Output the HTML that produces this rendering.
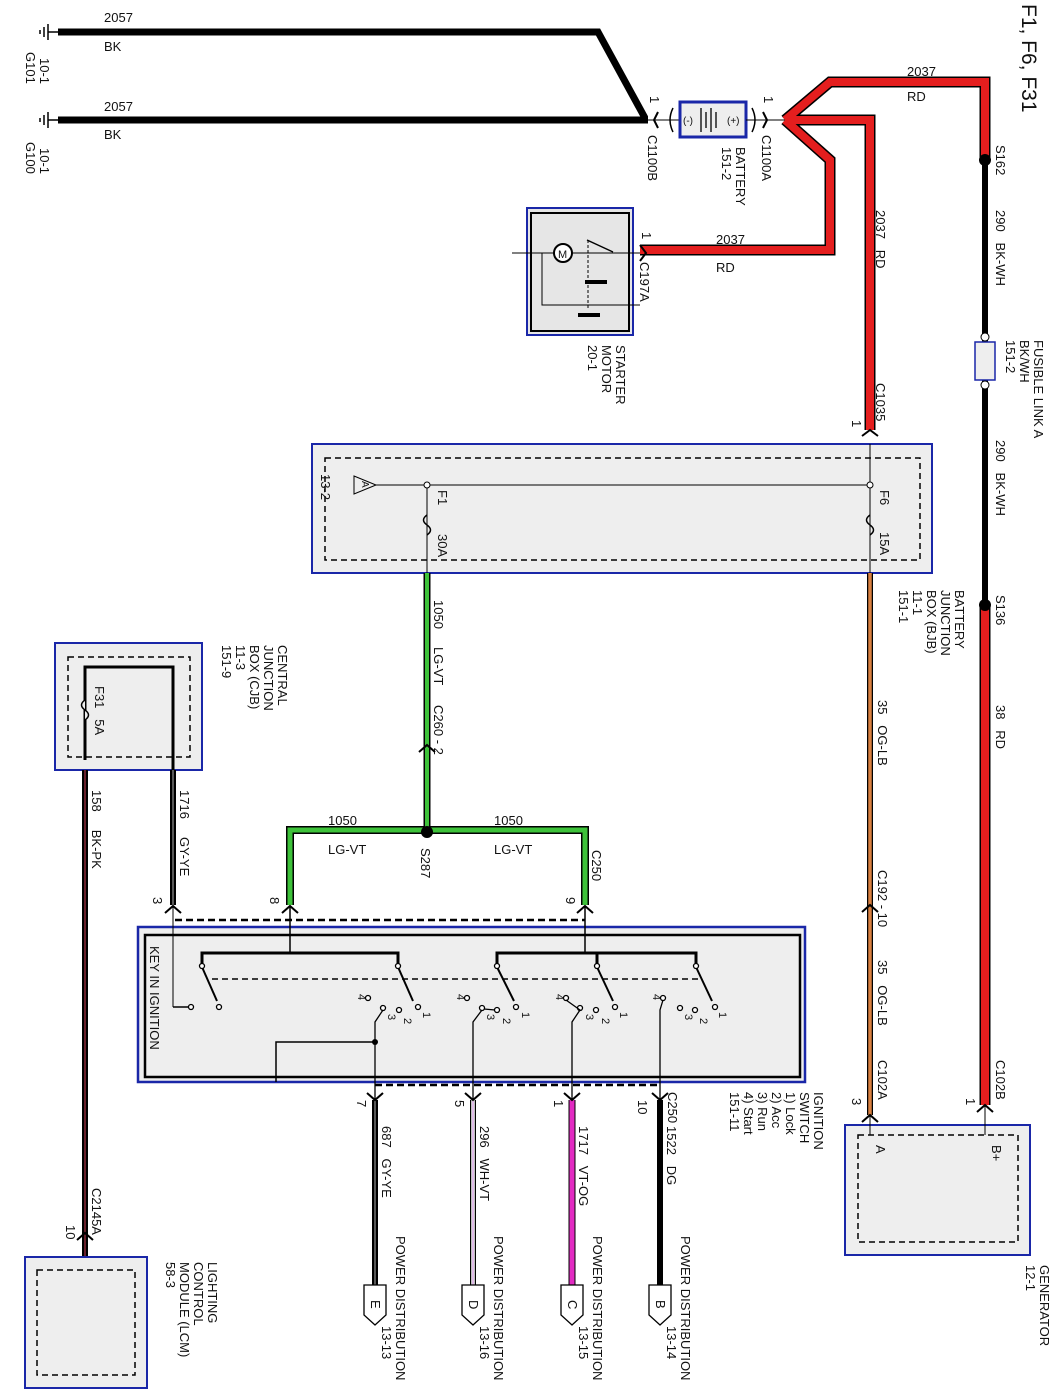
<!DOCTYPE html>
<html><head><meta charset="utf-8"><style>
html,body{margin:0;padding:0;background:#fff;}
svg{display:block;font-family:"Liberation Sans",sans-serif;}
text{font-size:13px;fill:#111;}
</style></head><body>
<svg width="1052" height="1396" viewBox="0 0 1052 1396" xmlns="http://www.w3.org/2000/svg">
<!-- top black ground wires -->
<polyline points="58,32 598,32 645,118" fill="none" stroke="#000" stroke-width="7"/>
<line x1="58" y1="120" x2="648" y2="120" stroke="#000" stroke-width="7"/>
<g stroke="#000" stroke-width="1.5">
<line x1="48" y1="24" x2="48" y2="40"/><line x1="44" y1="27" x2="44" y2="37"/><line x1="40" y1="30" x2="40" y2="34"/><line x1="48" y1="32" x2="58" y2="32"/>
<line x1="48" y1="112" x2="48" y2="128"/><line x1="44" y1="115" x2="44" y2="125"/><line x1="40" y1="118" x2="40" y2="122"/><line x1="48" y1="120" x2="58" y2="120"/>
</g>
<text x="104" y="22">2057</text><text x="104" y="51">BK</text>
<text x="104" y="111">2057</text><text x="104" y="139">BK</text>
<text transform="translate(26,52) rotate(90)">G101</text><text transform="translate(40,58) rotate(90)">10-1</text>
<text transform="translate(26,142) rotate(90)">G100</text><text transform="translate(40,148) rotate(90)">10-1</text>
<text transform="translate(1022,4) rotate(90)" style="font-size:21px">F1, F6, F31</text>

<!-- battery -->
<line x1="648" y1="120" x2="680" y2="120" stroke="#000" stroke-width="1"/>
<path d="M658,112 L654,120 L658,128" fill="none" stroke="#000" stroke-width="2"/>
<path d="M673,108 Q667,120 673,132" fill="none" stroke="#000" stroke-width="1.5"/>
<text transform="translate(650,96) rotate(90)">1</text>
<text transform="translate(648,135) rotate(90)">C1100B</text>
<rect x="680" y="102" width="66" height="35" fill="#eee" stroke="#1a27a8" stroke-width="3"/>
<g stroke="#000" stroke-width="1.3"><line x1="701" y1="108" x2="701" y2="132"/><line x1="706" y1="112" x2="706" y2="128"/><line x1="711" y1="108" x2="711" y2="132"/><line x1="716" y1="112" x2="716" y2="128"/></g>
<text x="683" y="124" style="font-size:10px">(-)</text><text x="727" y="124" style="font-size:10px">(+)</text>
<path d="M752,108 Q758,120 752,132" fill="none" stroke="#000" stroke-width="1.5"/>
<path d="M763,112 L767,120 L763,128" fill="none" stroke="#000" stroke-width="2"/>
<line x1="746" y1="120" x2="785" y2="120" stroke="#000" stroke-width="1"/>
<text transform="translate(764,96) rotate(90)">1</text>
<text transform="translate(762,135) rotate(90)">C1100A</text>
<text transform="translate(736,147) rotate(90)">BATTERY</text>
<text transform="translate(722,147) rotate(90)">151-2</text>

<!-- red wires -->
<g fill="none" stroke="#000" stroke-width="11" stroke-linejoin="miter">
<polyline points="785,120 830,82 985,82 985,160"/>
<polyline points="785,120 830,160 830,250 640,250"/>
<polyline points="785,120 870,120 870,430"/>
<line x1="985" y1="605" x2="985" y2="1105"/>
</g>
<g fill="none" stroke="#e41e1e" stroke-width="8" stroke-linejoin="miter">
<polyline points="785,120 830,82 985,82 985,160"/>
<polyline points="785,120 830,160 830,250 640,250"/>
<polyline points="785,120 870,120 870,430"/>
<line x1="985" y1="605" x2="985" y2="1105"/>
</g>
<text x="907" y="76">2037</text><text x="907" y="101">RD</text>
<text x="716" y="244">2037</text><text x="716" y="272">RD</text>
<text transform="translate(876,210) rotate(90)">2037 &#160; RD</text>
<!-- black fusible link line -->
<line x1="985" y1="160" x2="985" y2="605" stroke="#000" stroke-width="6"/>
<circle cx="985" cy="160" r="6" fill="#000"/>
<circle cx="985" cy="605" r="6" fill="#000"/>
<rect x="975" y="342" width="20" height="38" fill="#eee" stroke="#1a27a8" stroke-width="1.5"/>
<circle cx="985" cy="337" r="4" fill="#fff" stroke="#000"/><circle cx="985" cy="385" r="4" fill="#fff" stroke="#000"/>
<text transform="translate(996,145) rotate(90)">S162</text>
<text transform="translate(996,210) rotate(90)">290 &#160; BK-WH</text>
<text transform="translate(1034,340) rotate(90)">FUSIBLE LINK A</text>
<text transform="translate(1020,340) rotate(90)">BK/WH</text>
<text transform="translate(1006,340) rotate(90)">151-2</text>
<text transform="translate(996,440) rotate(90)">290 &#160; BK-WH</text>
<text transform="translate(996,595) rotate(90)">S136</text>
<text transform="translate(996,705) rotate(90)">38 &#160; RD</text>

<!-- starter -->
<rect x="527" y="208" width="106" height="127" fill="#e6e6e6" stroke="#1a27a8" stroke-width="2"/>
<rect x="531" y="213" width="98" height="118" fill="none" stroke="#000" stroke-width="2"/>
<line x1="512" y1="253" x2="640" y2="253" stroke="#000"/>
<circle cx="563" cy="253" r="9" fill="#fff" stroke="#000" stroke-width="2"/>
<text x="558" y="258" style="font-size:11px">M</text>
<polyline points="542,253 542,305 640,305" fill="none" stroke="#000"/>
<line x1="587" y1="240" x2="613" y2="252" stroke="#000" stroke-width="1.5"/>
<line x1="588" y1="240" x2="588" y2="310" stroke="#000" stroke-dasharray="3,2"/>
<rect x="585" y="280" width="22" height="4" fill="#000"/><rect x="578" y="313" width="22" height="4" fill="#000"/>
<text transform="translate(642,232) rotate(90)">1</text>
<path d="M640,245 L646,253 L640,261" fill="none" stroke="#000" stroke-width="2"/>
<text transform="translate(640,262) rotate(90)">C197A</text>
<text transform="translate(616,345) rotate(90)">STARTER</text>
<text transform="translate(602,345) rotate(90)">MOTOR</text>
<text transform="translate(588,345) rotate(90)">20-1</text>

<!-- BJB -->
<text transform="translate(876,383) rotate(90)">C1035</text>
<text transform="translate(852,420) rotate(90)">1</text>
<path d="M862,436 L870,430 L878,436" fill="none" stroke="#000" stroke-width="2"/>
<rect x="312" y="444" width="620" height="129" fill="#eee" stroke="#1a27a8" stroke-width="2"/>
<rect x="325" y="458" width="595" height="102" fill="none" stroke="#000" stroke-width="1.5" stroke-dasharray="6,4"/>
<line x1="375" y1="485" x2="870" y2="485" stroke="#000"/>
<line x1="870" y1="444" x2="870" y2="573" stroke="#000"/>
<line x1="427" y1="485" x2="427" y2="573" stroke="#000"/>
<path d="M427,515 q-7,5 0,10 q7,5 0,10" fill="none" stroke="#000" stroke-width="1.5"/>
<path d="M870,515 q-7,5 0,10 q7,5 0,10" fill="none" stroke="#000" stroke-width="1.5"/>
<circle cx="427" cy="485" r="3" fill="#fff" stroke="#000"/><circle cx="870" cy="485" r="3" fill="#fff" stroke="#000"/>
<polygon points="354,476 376,485 354,494" fill="none" stroke="#000"/>
<text transform="translate(362,481) rotate(90)" style="font-size:10px">A</text>
<text transform="translate(321,474) rotate(90)">13-2</text>
<text transform="translate(438,490) rotate(90)">F1</text><text transform="translate(438,534) rotate(90)">30A</text>
<text transform="translate(880,490) rotate(90)">F6</text><text transform="translate(880,532) rotate(90)">15A</text>
<text transform="translate(955,590) rotate(90)">BATTERY</text>
<text transform="translate(941,590) rotate(90)">JUNCTION</text>
<text transform="translate(927,590) rotate(90)">BOX (BJB)</text>
<text transform="translate(913,590) rotate(90)">11-1</text>
<text transform="translate(899,590) rotate(90)">151-1</text>

<!-- orange -->
<line x1="870" y1="573" x2="870" y2="1115" stroke="#000" stroke-width="6"/>
<line x1="870" y1="573" x2="870" y2="1115" stroke="#d98040" stroke-width="3.5"/>
<text transform="translate(878,700) rotate(90)">35 &#160; OG-LB</text>
<text transform="translate(878,870) rotate(90)">C192 - 10</text>
<path d="M862,912 L870,905 L878,912" fill="none" stroke="#000" stroke-width="2"/>
<text transform="translate(878,960) rotate(90)">35 &#160; OG-LB</text>
<text transform="translate(878,1060) rotate(90)">C102A</text>
<text transform="translate(996,1060) rotate(90)">C102B</text>
<text transform="translate(852,1098) rotate(90)">3</text>
<text transform="translate(966,1098) rotate(90)">1</text>
<path d="M862,1122 L870,1115 L878,1122" fill="none" stroke="#000" stroke-width="2"/>
<path d="M977,1112 L985,1105 L993,1112" fill="none" stroke="#000" stroke-width="2"/>

<!-- generator -->
<rect x="845" y="1125" width="185" height="130" fill="#eee" stroke="#1a27a8" stroke-width="2"/>
<rect x="858" y="1135" width="160" height="107" fill="none" stroke="#000" stroke-width="1.5" stroke-dasharray="6,4"/>
<line x1="870" y1="1115" x2="870" y2="1135" stroke="#000"/><line x1="985" y1="1105" x2="985" y2="1135" stroke="#000"/>
<text transform="translate(876,1145) rotate(90)">A</text>
<text transform="translate(992,1145) rotate(90)">B+</text>
<text transform="translate(1040,1265) rotate(90)">GENERATOR</text>
<text transform="translate(1026,1265) rotate(90)">12-1</text>

<!-- green -->
<polyline points="427,573 427,830" fill="none" stroke="#000" stroke-width="7"/>
<polyline points="290,905 290,830 585,830 585,905" fill="none" stroke="#000" stroke-width="8"/>
<polyline points="427,573 427,830" fill="none" stroke="#3ec23a" stroke-width="4"/>
<polyline points="290,905 290,830 585,830 585,905" fill="none" stroke="#3ec23a" stroke-width="5"/>
<circle cx="427" cy="832" r="6" fill="#000"/>
<text transform="translate(434,600) rotate(90)">1050 &#160; &#160; LG-VT</text>
<text transform="translate(434,705) rotate(90)">C260 - 2</text>
<path d="M419,752 L427,745 L435,752" fill="none" stroke="#000" stroke-width="2"/>
<text x="328" y="825">1050</text><text x="328" y="854">LG-VT</text>
<text x="494" y="825">1050</text><text x="494" y="854">LG-VT</text>
<text transform="translate(421,848) rotate(90)">S287</text>
<text transform="translate(592,850) rotate(90)">C250</text>

<!-- CJB -->
<rect x="55" y="643" width="147" height="127" fill="#eee" stroke="#1a27a8" stroke-width="2"/>
<rect x="68" y="657" width="122" height="100" fill="none" stroke="#000" stroke-width="1.5" stroke-dasharray="6,4"/>
<polyline points="85,760 85,667 173,667 173,770" fill="none" stroke="#000" stroke-width="3"/>
<path d="M85,700 q-7,5 0,10 q7,5 0,10" fill="#eee" stroke="#000" stroke-width="1.5"/>
<text transform="translate(95,686) rotate(90)">F31 &#160; 5A</text>
<text transform="translate(278,645) rotate(90)">CENTRAL</text>
<text transform="translate(264,645) rotate(90)">JUNCTION</text>
<text transform="translate(250,645) rotate(90)">BOX (CJB)</text>
<text transform="translate(236,645) rotate(90)">11-3</text>
<text transform="translate(222,645) rotate(90)">151-9</text>
<line x1="85" y1="770" x2="85" y2="1262" stroke="#000" stroke-width="6"/>
<line x1="85" y1="770" x2="85" y2="1262" stroke="#8a2a3a" stroke-width="1.5"/>
<line x1="173" y1="770" x2="173" y2="905" stroke="#000" stroke-width="6"/>
<line x1="173" y1="770" x2="173" y2="905" stroke="#777" stroke-width="1.5"/>
<text transform="translate(92,790) rotate(90)">158 &#160; &#160; BK-PK</text>
<text transform="translate(180,790) rotate(90)">1716 &#160; &#160; GY-YE</text>
<text transform="translate(92,1188) rotate(90)">C2145A</text>
<text transform="translate(66,1225) rotate(90)">10</text>
<path d="M77,1240 L85,1233 L93,1240" fill="none" stroke="#000" stroke-width="2"/>
<rect x="25" y="1257" width="122" height="131" fill="#eee" stroke="#1a27a8" stroke-width="2"/>
<rect x="37" y="1270" width="98" height="105" fill="none" stroke="#000" stroke-width="1.5" stroke-dasharray="6,4"/>
<text transform="translate(208,1262) rotate(90)">LIGHTING</text>
<text transform="translate(194,1262) rotate(90)">CONTROL</text>
<text transform="translate(180,1262) rotate(90)">MODULE (LCM)</text>
<text transform="translate(166,1262) rotate(90)">58-3</text>

<!-- ignition switch -->
<text transform="translate(153,897) rotate(90)">3</text>
<text transform="translate(270,897) rotate(90)">8</text>
<text transform="translate(566,897) rotate(90)">9</text>
<g fill="none" stroke="#000" stroke-width="2">
<path d="M165,913 L173,906 L181,913"/><path d="M282,913 L290,906 L298,913"/><path d="M577,913 L585,906 L593,913"/>
</g>
<line x1="175" y1="920" x2="585" y2="920" stroke="#000" stroke-width="2.5" stroke-dasharray="7,4"/>
<rect x="138" y="927" width="667" height="155" fill="#eee" stroke="#1a27a8" stroke-width="2.5"/>
<rect x="145" y="935" width="655" height="142" fill="none" stroke="#000" stroke-width="2.5"/>
<text transform="translate(150,946) rotate(90)" style="font-size:13px">KEY IN IGNITION</text>
<g stroke="#000" fill="none">
<line x1="173" y1="906" x2="173" y2="1007"/><line x1="173" y1="1007" x2="190" y2="1007" stroke-width="1.5"/>
<line x1="290" y1="906" x2="290" y2="953" stroke-width="1.5"/>
<line x1="585" y1="906" x2="585" y2="953" stroke-width="1.5"/>
<polyline points="202,965 202,953 398,953 398,965" stroke-width="3"/>
<polyline points="497,965 497,953 696,953 696,965" stroke-width="3"/>
<line x1="597" y1="953" x2="597" y2="965" stroke-width="3"/>
<line x1="212" y1="979" x2="700" y2="979" stroke-width="1.5" stroke-dasharray="6,4"/>
<line x1="202" y1="967" x2="217" y2="1001" stroke-width="2"/>
<line x1="398" y1="967" x2="413" y2="1001" stroke-width="2"/>
<line x1="497" y1="967" x2="514" y2="1001" stroke-width="2"/>
<line x1="597" y1="967" x2="613" y2="1001" stroke-width="2"/>
<line x1="696" y1="967" x2="712" y2="1001" stroke-width="2"/>
</g>
<g fill="#fff" stroke="#000" stroke-width="1.3">
<circle cx="202" cy="966" r="2.5"/><circle cx="398" cy="966" r="2.5"/><circle cx="497" cy="966" r="2.5"/><circle cx="597" cy="966" r="2.5"/><circle cx="696" cy="966" r="2.5"/>
<circle cx="191" cy="1007" r="2.5"/><circle cx="219" cy="1007" r="2.5"/>
<circle cx="368" cy="998" r="2.5"/><circle cx="383" cy="1008" r="2.5"/><circle cx="399" cy="1010" r="2.5"/><circle cx="418" cy="1007" r="2.5"/>
<circle cx="467" cy="998" r="2.5"/><circle cx="482" cy="1008" r="2.5"/><circle cx="497" cy="1010" r="2.5"/><circle cx="516" cy="1007" r="2.5"/>
<circle cx="566" cy="998" r="2.5"/><circle cx="580" cy="1008" r="2.5"/><circle cx="596" cy="1010" r="2.5"/><circle cx="615" cy="1007" r="2.5"/>
<circle cx="663" cy="998" r="2.5"/><circle cx="680" cy="1008" r="2.5"/><circle cx="695" cy="1010" r="2.5"/><circle cx="715" cy="1007" r="2.5"/>
</g>
<g stroke="#000" fill="none" stroke-width="1.3">
<polyline points="383,1010 375,1022 375,1100"/>
<polyline points="482,1010 473,1022 473,1100"/><line x1="484" y1="1009" x2="495" y2="1010"/>
<polyline points="566,1000 580,1010 572,1022 572,1100"/>
<polyline points="663,1000 660,1010 660,1100"/>
<polyline points="276,1082 276,1042 375,1042" stroke-width="1.5"/>
</g>
<circle cx="375" cy="1042" r="3" fill="#000"/>
<g>
<text transform="translate(358,994) rotate(90)" style="font-size:11px">4</text><text transform="translate(388,1014) rotate(90)" style="font-size:11px">3</text><text transform="translate(404,1018) rotate(90)" style="font-size:11px">2</text><text transform="translate(423,1012) rotate(90)" style="font-size:11px">1</text>
<text transform="translate(457,994) rotate(90)" style="font-size:11px">4</text><text transform="translate(487,1014) rotate(90)" style="font-size:11px">3</text><text transform="translate(503,1018) rotate(90)" style="font-size:11px">2</text><text transform="translate(522,1012) rotate(90)" style="font-size:11px">1</text>
<text transform="translate(556,994) rotate(90)" style="font-size:11px">4</text><text transform="translate(586,1014) rotate(90)" style="font-size:11px">3</text><text transform="translate(602,1018) rotate(90)" style="font-size:11px">2</text><text transform="translate(620,1012) rotate(90)" style="font-size:11px">1</text>
<text transform="translate(653,994) rotate(90)" style="font-size:11px">4</text><text transform="translate(685,1014) rotate(90)" style="font-size:11px">3</text><text transform="translate(700,1018) rotate(90)" style="font-size:11px">2</text><text transform="translate(719,1012) rotate(90)" style="font-size:11px">1</text>
</g>
<line x1="375" y1="1085" x2="660" y2="1085" stroke="#000" stroke-width="2.5" stroke-dasharray="7,4"/>
<text transform="translate(814,1092) rotate(90)">IGNITION</text>
<text transform="translate(800,1092) rotate(90)">SWITCH</text>
<text transform="translate(786,1092) rotate(90)">1) Lock</text>
<text transform="translate(772,1092) rotate(90)">2) Acc</text>
<text transform="translate(758,1092) rotate(90)">3) Run</text>
<text transform="translate(744,1092) rotate(90)">4) Start</text>
<text transform="translate(730,1092) rotate(90)">151-11</text>

<!-- output wires -->
<line x1="375" y1="1100" x2="375" y2="1285" stroke="#000" stroke-width="6"/>
<line x1="375" y1="1100" x2="375" y2="1285" stroke="#777" stroke-width="1.5"/>
<line x1="473" y1="1100" x2="473" y2="1285" stroke="#000" stroke-width="6"/>
<line x1="473" y1="1100" x2="473" y2="1285" stroke="#fff" stroke-width="3.5"/>
<line x1="473" y1="1100" x2="473" y2="1285" stroke="#c07ad0" stroke-width="1"/>
<line x1="572" y1="1100" x2="572" y2="1285" stroke="#000" stroke-width="7"/>
<line x1="572" y1="1100" x2="572" y2="1285" stroke="#e22ac2" stroke-width="5"/>
<line x1="660" y1="1100" x2="660" y2="1285" stroke="#000" stroke-width="6"/>
<g fill="none" stroke="#000" stroke-width="2">
<path d="M367,1093 L375,1100 L383,1093"/><path d="M465,1093 L473,1100 L481,1093"/><path d="M564,1093 L572,1100 L580,1093"/><path d="M652,1093 L660,1100 L668,1093"/>
</g>
<text transform="translate(357,1100) rotate(90)">7</text><text transform="translate(455,1100) rotate(90)">5</text><text transform="translate(554,1100) rotate(90)">1</text><text transform="translate(638,1100) rotate(90)">10</text>
<text transform="translate(668,1092) rotate(90)">C250</text>
<text transform="translate(382,1126) rotate(90)">687 &#160; GY-YE</text>
<text transform="translate(480,1126) rotate(90)">296 &#160; WH-VT</text>
<text transform="translate(579,1126) rotate(90)">1717 &#160; VT-OG</text>
<text transform="translate(667,1126) rotate(90)">1522 &#160; DG</text>
<g fill="#fff" stroke="#000" stroke-width="1.3">
<polygon points="364,1285 386,1285 386,1315 375,1325 364,1315"/>
<polygon points="462,1285 484,1285 484,1315 473,1325 462,1315"/>
<polygon points="561,1285 583,1285 583,1315 572,1325 561,1315"/>
<polygon points="649,1285 671,1285 671,1315 660,1325 649,1315"/>
</g>
<text transform="translate(371,1300) rotate(90)">E</text>
<text transform="translate(469,1300) rotate(90)">D</text>
<text transform="translate(568,1300) rotate(90)">C</text>
<text transform="translate(656,1300) rotate(90)">B</text>
<text transform="translate(396,1236) rotate(90)">POWER DISTRIBUTION</text>
<text transform="translate(382,1326) rotate(90)">13-13</text>
<text transform="translate(494,1236) rotate(90)">POWER DISTRIBUTION</text>
<text transform="translate(480,1326) rotate(90)">13-16</text>
<text transform="translate(593,1236) rotate(90)">POWER DISTRIBUTION</text>
<text transform="translate(579,1326) rotate(90)">13-15</text>
<text transform="translate(681,1236) rotate(90)">POWER DISTRIBUTION</text>
<text transform="translate(667,1326) rotate(90)">13-14</text>
</svg>
</body></html>
